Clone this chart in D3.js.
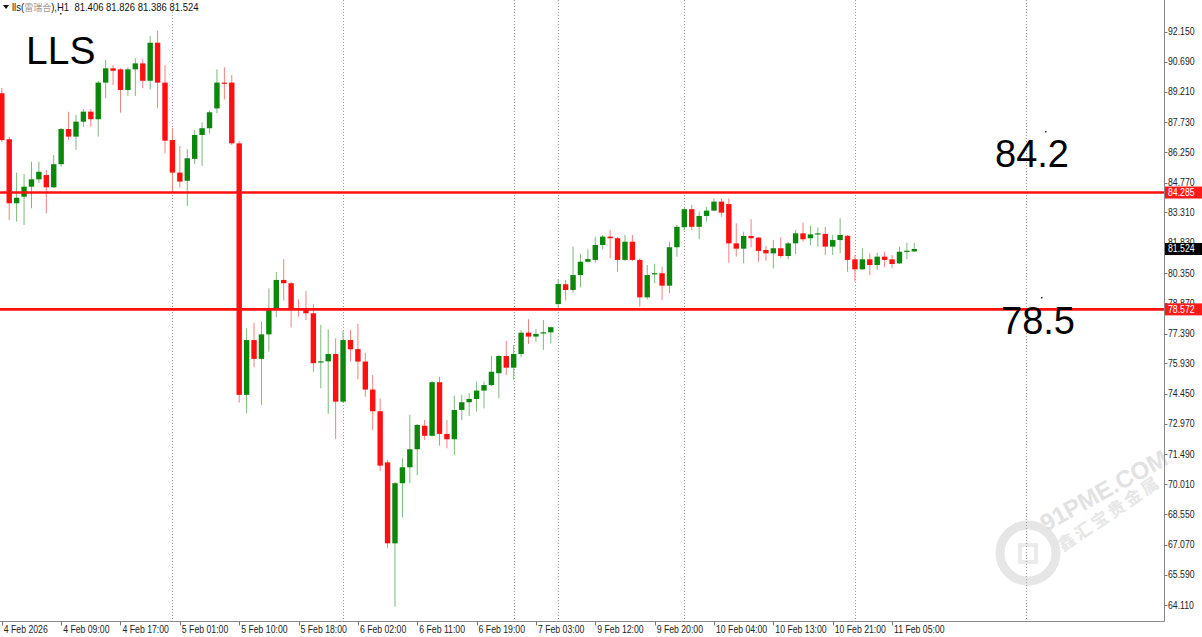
<!DOCTYPE html>
<html><head><meta charset="utf-8">
<script src="https://cdn.jsdelivr.net/npm/d3@7/dist/d3.min.js"></script>
<style>html,body{margin:0;padding:0;background:#fff;}svg{display:block;}</style>
</head><body>
<svg id="c" width="1202" height="637"></svg>
<script>
const openP = [89.14,86.89,83.76,84.08,84.57,84.93,85.14,84.54,85.67,87.39,
 87.02,87.75,88.24,87.87,89.66,90.36,90.31,89.30,90.31,90.60,
 89.75,91.61,89.66,86.85,85.26,84.86,85.93,87.10,87.43,88.40,
 89.66,89.66,86.69,74.39,77.07,76.15,77.35,78.54,80.01,79.85,
 78.64,78.62,78.38,75.98,76.03,76.39,74.06,77.07,76.63,76.02,
 74.65,73.59,71.09,67.13,70.07,70.85,71.73,72.88,72.39,75.01,
 72.48,72.22,73.65,74.03,74.19,74.60,74.87,75.45,76.29,75.72,
 76.39,77.43,77.24,77.40,77.45,78.83,79.80,79.52,80.25,80.90,
 80.99,81.72,82.13,82.05,80.99,81.88,80.99,79.16,80.30,80.34,
 79.73,81.61,82.59,83.47,82.61,83.14,83.40,83.84,83.72,81.80,
 81.54,82.16,82.08,81.48,81.31,81.56,81.18,81.80,82.29,82.05,
 82.24,82.26,81.64,81.96,82.17,81.02,80.53,81.02,80.74,81.15,
 81.02,80.82,81.39,81.406];
const closeP = [86.85,83.76,84.03,84.57,84.93,85.30,84.54,85.67,87.39,87.02,
 87.75,88.24,87.87,89.66,90.36,90.24,89.30,90.31,90.60,89.75,
 91.61,89.66,86.82,85.26,84.82,85.96,87.10,87.43,88.21,89.66,
 89.63,86.69,74.39,77.07,76.15,77.35,78.62,80.01,79.85,78.62,
 78.59,78.38,75.94,76.03,76.39,74.06,77.07,76.62,76.02,74.65,
 73.59,70.93,67.13,70.07,70.85,71.73,72.92,72.39,75.01,72.48,
 72.22,73.65,74.03,74.19,74.60,74.87,75.52,76.29,75.72,76.39,
 77.43,77.24,77.37,77.45,77.70,79.81,79.52,80.25,80.90,81.03,
 81.72,82.13,82.05,80.99,81.88,80.99,79.16,80.25,80.34,79.73,
 81.61,82.61,83.47,82.61,83.14,83.40,83.84,83.30,81.80,81.54,
 82.16,82.05,81.43,81.31,81.56,81.18,81.80,82.29,82.00,82.24,
 82.29,81.64,81.96,82.21,80.99,80.53,81.02,80.74,81.15,80.99,
 80.79,81.39,81.44,81.524];
const highP = [89.40,87.00,85.26,85.19,85.79,85.79,85.39,86.12,87.44,88.24,
 88.08,88.36,88.37,89.74,90.77,90.52,90.37,90.41,90.85,90.80,
 91.94,92.20,90.52,87.44,86.56,86.40,87.34,87.72,88.29,90.31,
 90.41,90.03,86.80,77.65,77.92,77.97,79.60,80.40,81.03,79.91,
 79.06,79.47,78.82,77.81,77.60,77.16,77.51,77.56,77.87,76.45,
 75.36,74.22,71.21,70.13,71.29,73.41,72.97,73.16,75.07,75.28,
 73.16,74.35,74.39,74.47,75.04,75.04,76.29,76.34,77.03,76.83,
 77.56,78.09,77.60,78.05,77.73,80.04,80.01,81.64,81.28,81.51,
 82.13,82.21,82.45,82.11,82.21,82.21,81.07,80.74,80.79,80.66,
 81.88,82.70,83.53,83.68,83.35,83.59,84.00,84.00,84.00,82.78,
 82.37,82.98,82.11,81.67,81.96,82.10,81.88,82.45,82.81,82.65,
 82.58,82.61,82.21,83.03,82.21,81.23,81.56,81.31,81.34,81.39,
 81.23,81.64,81.83,81.826];
const lowP = [86.76,82.94,82.86,82.70,83.51,84.74,83.27,84.51,85.55,86.85,
 86.37,87.50,87.50,87.02,88.89,89.54,88.19,89.01,89.01,89.38,
 89.33,88.40,86.20,84.33,84.54,83.63,85.68,85.58,87.18,88.16,
 88.84,86.61,74.01,73.49,75.74,73.90,76.50,78.18,79.00,77.68,
 78.21,78.05,75.52,74.71,73.46,72.24,74.00,76.02,75.15,74.30,
 72.67,70.67,66.89,64.03,68.40,70.07,70.47,72.18,72.35,71.91,
 71.78,71.45,73.16,73.36,73.57,73.73,74.82,74.22,75.36,75.12,
 76.23,76.88,76.99,76.59,76.91,78.62,79.00,79.39,79.65,80.86,
 80.85,81.51,81.07,80.41,80.94,80.94,78.70,79.06,79.85,79.03,
 79.36,81.15,82.45,82.45,82.00,82.86,83.38,83.10,80.85,81.15,
 80.82,81.61,80.90,80.95,80.58,81.07,81.02,81.28,81.88,81.72,
 81.64,81.23,81.23,81.31,80.41,79.93,80.50,80.25,80.50,80.63,
 80.58,80.79,81.02,81.386];

const yTicks = [92.150,90.690,89.210,87.730,86.250,84.770,83.310,81.830,80.350,78.870,
 77.390,75.930,74.450,72.970,71.490,70.010,68.550,67.070,65.590,64.110];
const xLabelIdx = [0,8,16,24,32,40,48,56,64,72,80,88,96,104,112,120];
const xLabels = ["4 Feb 2026","4 Feb 09:00","4 Feb 17:00","5 Feb 01:00","5 Feb 10:00","5 Feb 18:00",
 "6 Feb 02:00","6 Feb 11:00","6 Feb 19:00","7 Feb 03:00","9 Feb 12:00","9 Feb 20:00",
 "10 Feb 04:00","10 Feb 13:00","10 Feb 21:00","11 Feb 05:00"];
const gridIdx = [23,46,69,75,92,115,138];
const levels = [84.285, 78.572];
const levelNotes = ["84.2","78.5"];
const lastPrice = 81.524;
const title = "LLS";

const svg = d3.select("#c");
const W = 1202, H = 637, plotR = 1164.5, plotB = 621.5;
const x = d3.scaleLinear().domain([0,123]).range([1.8,914.3]);
const y = d3.scaleLinear().domain([64.110,92.150]).range([605.1,31.7]);
const FONT = "'Liberation Sans', Arial, sans-serif";
const SX = 0.87; // narrow, Tahoma-like axis text

svg.append("rect").attr("width",W).attr("height",H).attr("fill","#fff");

// watermark
const wm = svg.append("g");
wm.append("circle").attr("cx",1028).attr("cy",553).attr("r",28).attr("fill","none").attr("stroke","#e6e6e6").attr("stroke-width",9);
wm.append("path").attr("d","M1020,545 L1036,545 L1036,562 L1020,562 Z").attr("fill","none").attr("stroke","#ebebeb").attr("stroke-width",4);
wm.append("text").attr("transform","translate(1046,532) rotate(-29)").attr("font-family",FONT)
  .attr("font-weight","bold").attr("font-size",24).attr("fill","#e2e2e2").text("91PME.COM");
wm.append("text").attr("transform","translate(1063,552) rotate(-34)").attr("font-family","'Noto Sans CJK SC'")
  .attr("font-weight","bold").attr("font-size",17).attr("fill","#e6e6e6").attr("letter-spacing",3).text("鑫汇宝贵金属");

// grid
svg.append("g").selectAll("line").data(gridIdx).join("line")
  .attr("x1",d=>Math.round(x(d))+0.5).attr("x2",d=>Math.round(x(d))+0.5)
  .attr("y1",0).attr("y2",plotB)
  .attr("stroke","#9a9a9a").attr("stroke-width",1).attr("stroke-dasharray","1,2");

// candles
const data = openP.map((o,i)=>({i,o,h:highP[i],l:lowP[i],c:closeP[i]}));
const g = svg.append("g");
g.selectAll("line.w").data(data).join("line").attr("class","w")
  .attr("x1",d=>x(d.i)).attr("x2",d=>x(d.i))
  .attr("y1",d=>y(d.h)).attr("y2",d=>y(d.l))
  .attr("stroke",d=>d.c>=d.o?"#7cb87c":"#f28080").attr("stroke-width",1);
g.selectAll("rect.b").data(data).join("rect").attr("class","b")
  .attr("x",d=>x(d.i)-2.7).attr("width",5.4)
  .attr("y",d=>y(Math.max(d.o,d.c)))
  .attr("height",d=>Math.max(1.2,Math.abs(y(d.o)-y(d.c))))
  .attr("fill",d=>d.c>=d.o?"#0b870b":"#ff0f0f");

// level lines
svg.append("g").selectAll("line").data(levels).join("line")
  .attr("x1",0).attr("x2",plotR).attr("y1",d=>y(d)).attr("y2",d=>y(d))
  .attr("stroke","#ff1010").attr("stroke-width",2.6);

// frame
svg.append("line").attr("x1",plotR).attr("x2",plotR).attr("y1",0).attr("y2",plotB).attr("stroke","#8a8a8a");
svg.append("line").attr("x1",0).attr("x2",plotR).attr("y1",plotB).attr("y2",plotB).attr("stroke","#8a8a8a");

// y axis
const ya = svg.append("g");
ya.selectAll("line").data(yTicks).join("line")
  .attr("x1",plotR).attr("x2",plotR+3).attr("y1",d=>Math.round(y(d))+0.5).attr("y2",d=>Math.round(y(d))+0.5)
  .attr("stroke","#777");
ya.selectAll("text").data(yTicks).join("text")
  .attr("transform",d=>`translate(1168,${y(d)}) scale(${SX},1)`).attr("dy","0.35em")
  .attr("font-family",FONT).attr("font-size",10).attr("fill","#222")
  .text(d=>d.toFixed(3));

// price boxes
function priceBox(v, bg){
  const yy = y(v);
  svg.append("rect").attr("x",plotR+0.5).attr("y",yy-6).attr("width",W-plotR).attr("height",12).attr("fill",bg);
  svg.append("text").attr("transform",`translate(1168,${yy}) scale(${SX},1)`).attr("dy","0.35em").attr("font-family",FONT)
    .attr("font-size",10).attr("fill","#fff").text(v.toFixed(3));
}
levels.forEach(v=>priceBox(v,"#ff1a1a"));
priceBox(lastPrice,"#000");

// x axis
const xa = svg.append("g");
xa.selectAll("line").data(xLabelIdx).join("line")
  .attr("x1",d=>Math.round(x(d))+0.5).attr("x2",d=>Math.round(x(d))+0.5)
  .attr("y1",plotB).attr("y2",plotB+4).attr("stroke","#777");
xa.selectAll("text").data(xLabelIdx).join("text")
  .attr("transform",d=>`translate(${x(d)+2},633) scale(${SX},1)`)
  .attr("font-family",FONT).attr("font-size",10).attr("fill","#222")
  .text((d,k)=>xLabels[k]);

// header
svg.append("path").attr("d","M3,5 L9,5 L6,9 Z").attr("fill","#111");
const hdr = svg.append("text").attr("transform",`translate(12,11) scale(0.95,1)`)
  .attr("font-family",FONT).attr("font-size",10).attr("fill","#111");
hdr.append("tspan").text("lls(");
hdr.append("tspan").attr("fill","#9a9a9a").attr("font-family","'Noto Sans CJK SC'").attr("font-size",9.5).text("雷瑞合");
hdr.append("tspan").text("),H1\u00a0\u00a081.406 81.826 81.386 81.524");

// annotations
svg.append("text").attr("x",26).attr("y",64).attr("font-family",FONT).attr("font-size",39).attr("fill","#000").text(title);
svg.selectAll("text.note").data(levels).join("text").attr("class","note")
  .attr("x",(d,k)=>k===0?995:1001).attr("y",(d,k)=>k===0?167:334)
  .attr("font-family",FONT).attr("font-size",38).attr("fill","#000").text((d,k)=>levelNotes[k]);
[[60,13],[1045,131],[1041,297]].forEach(p=>svg.append("rect").attr("x",p[0]).attr("y",p[1]).attr("width",1.5).attr("height",1.5).attr("fill","#333"));
</script>
</body></html>
